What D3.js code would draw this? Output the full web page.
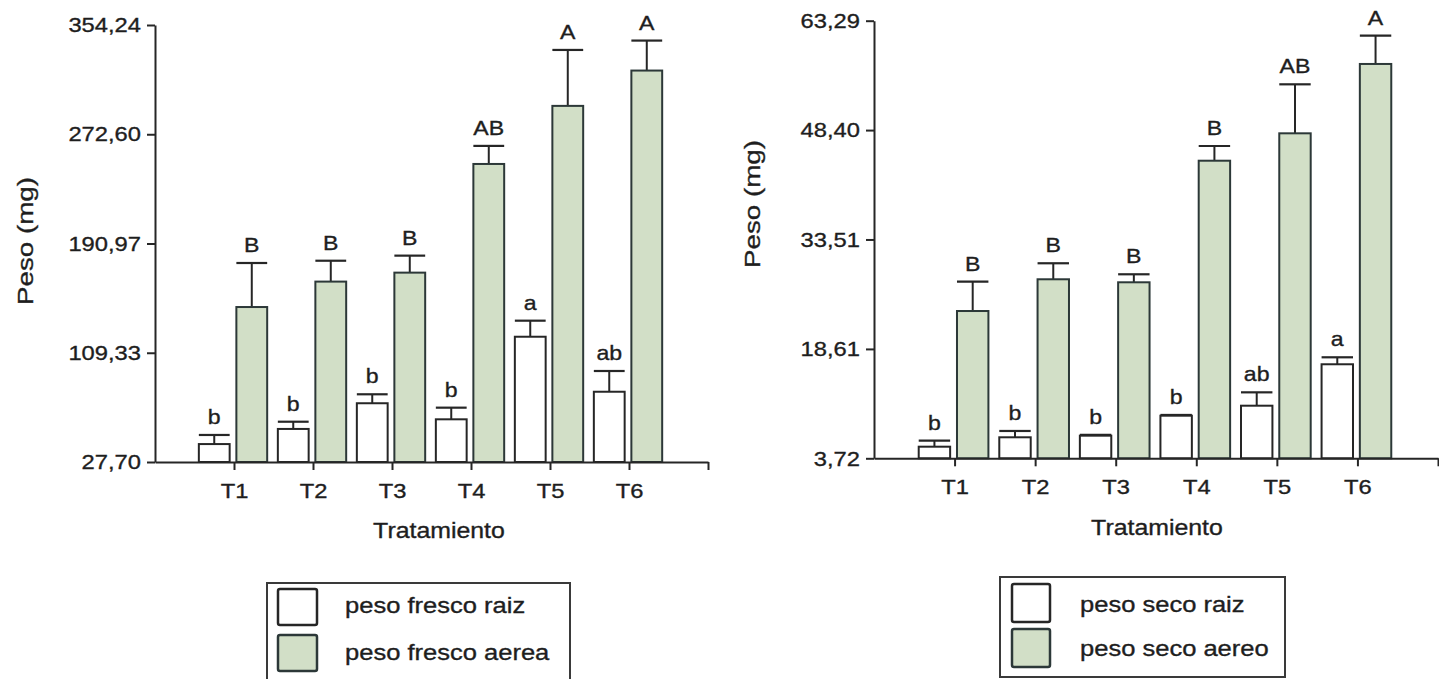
<!DOCTYPE html>
<html>
<head>
<meta charset="utf-8">
<script src="https://cdn.jsdelivr.net/npm/d3@7"></script>
<style>
  html, body { margin: 0; padding: 0; background: #ffffff; }
  svg { display: block; font-family: "Liberation Sans", Arial, sans-serif; }
  text { fill: #1e1e1e; stroke: #1e1e1e; stroke-width: 0.35px; }
</style>
</head>
<body>
<script>
// Treatments on the x axis
const treatments = ["T1", "T2", "T3", "T4", "T5", "T6"];

// Fresh weight (mg): root and shoot means, standard errors and Tukey letters
const freshRoot        = [41.1, 52.4, 71.6, 59.6, 121.3, 80.2];
const freshRootErr     = [6.8, 5.4, 6.7, 8.7, 12.0, 15.5];
const freshRootLetters = ["b", "b", "b", "b", "a", "ab"];
const freshShoot        = [143.5, 162.5, 169.2, 250.4, 293.8, 320.2];
const freshShootErr     = [32.9, 15.6, 12.7, 13.5, 41.8, 22.4];
const freshShootLetters = ["B", "B", "B", "AB", "A", "A"];
const freshTicks = [27.70, 109.33, 190.97, 272.60, 354.24];
const freshLegend = ["peso fresco raiz", "peso fresco aerea"];

// Dry weight (mg)
const dryRoot        = [5.30, 6.58, 6.80, 9.52, 10.88, 16.52];
const dryRootErr     = [0.82, 0.86, 0.12, 0.10, 1.82, 0.95];
const dryRootLetters = ["b", "b", "b", "b", "ab", "a"];
const dryShoot        = [23.77, 28.09, 27.68, 44.23, 47.96, 57.40];
const dryShootErr     = [3.99, 2.18, 1.09, 2.00, 6.67, 3.85];
const dryShootLetters = ["B", "B", "B", "B", "AB", "A"];
const dryTicks = [3.72, 18.61, 33.51, 48.40, 63.29];
const dryLegend = ["peso seco raiz", "peso seco aereo"];

const yTitle = "Peso (mg)";
const xTitle = "Tratamiento";

const INK = "#262626";
const GREEN = "#d2dfc7";
const GREEN_EDGE = "#2c3838";

const fmt = d3.formatLocale({ decimal: ",", thousands: ".", grouping: [3], currency: ["", ""] }).format(".2f");

const svg = d3.select("body").append("svg")
  .attr("width", 1439).attr("height", 679);

// widen glyphs horizontally (the lettering is set a little wider than the font)
function stretch(sel, k) {
  sel.each(function () {
    const L = this.getComputedTextLength();
    this.setAttribute("textLength", L * k);
    this.setAttribute("lengthAdjust", "spacingAndGlyphs");
  });
}

function drawPanel(p) {
  const g = svg.append("g");
  const x = d3.scaleLinear().domain([0, treatments.length + 1]).range([p.left, p.right]);
  const y = d3.scaleLinear().domain([p.ticks[0], p.ticks[p.ticks.length - 1]]).range([p.bottom, p.top]);
  const u = x(1) - x(0);
  const bw = 0.39 * u;
  const base = p.ticks[0];

  const series = [
    { values: p.root,  err: p.rootErr,  letters: p.rootLetters,  fill: "#ffffff", edge: INK,        off: -0.445 },
    { values: p.shoot, err: p.shootErr, letters: p.shootLetters, fill: GREEN,     edge: GREEN_EDGE, off: 0.03 }
  ];

  series.forEach(s => {
    const rows = s.values.map((v, i) => ({ v, e: s.err[i], l: s.letters[i], x0: x(i + 1) + s.off * u }));
    const sg = g.append("g");

    // error bars (upper whisker + cap)
    sg.selectAll("line.whisker").data(rows).join("line")
      .attr("x1", d => d.x0 + bw / 2).attr("x2", d => d.x0 + bw / 2)
      .attr("y1", d => y(d.v)).attr("y2", d => y(d.v + d.e))
      .attr("stroke", INK).attr("stroke-width", 2);
    sg.selectAll("line.cap").data(rows).join("line")
      .attr("x1", d => d.x0).attr("x2", d => d.x0 + bw)
      .attr("y1", d => y(d.v + d.e)).attr("y2", d => y(d.v + d.e))
      .attr("stroke", INK).attr("stroke-width", 2.2);

    // bars
    sg.selectAll("rect").data(rows).join("rect")
      .attr("x", d => d.x0).attr("width", bw)
      .attr("y", d => y(d.v)).attr("height", d => y(base) - y(d.v))
      .attr("fill", s.fill).attr("stroke", s.edge).attr("stroke-width", 2);

    // significance letters
    const lt = sg.selectAll("text").data(rows).join("text")
      .attr("x", d => d.x0 + bw / 2).attr("y", d => y(d.v + d.e) - 11)
      .attr("text-anchor", "middle").attr("font-size", 21)
      .text(d => d.l);
    stretch(lt, 1.1);
  });

  // y axis
  const ya = g.append("g").attr("transform", `translate(${p.left},0)`)
    .call(d3.axisLeft(y).tickValues(p.ticks).tickFormat(fmt).tickSize(8).tickSizeOuter(0).tickPadding(6));
  // x axis
  const xa = g.append("g").attr("transform", `translate(0,${p.bottom})`)
    .call(d3.axisBottom(x).tickValues(d3.range(1, treatments.length + 2))
      .tickFormat(d => treatments[d - 1] || "").tickSize(8).tickSizeOuter(0).tickPadding(13));

  [ya, xa].forEach(a => {
    a.select(".domain").attr("stroke", INK).attr("stroke-width", 2);
    a.selectAll(".tick line").attr("stroke", INK).attr("stroke-width", 2);
    a.selectAll(".tick text").attr("font-size", 21).attr("fill", "#1e1e1e")
      .attr("font-family", "'Liberation Sans', Arial, sans-serif");
    stretch(a.selectAll(".tick text"), 1.13);
  });

  // axis titles
  const xt = g.append("text").attr("x", p.xTitleX).attr("y", p.xTitleY)
    .attr("text-anchor", "middle").attr("font-size", 22).text(xTitle);
  stretch(xt, 1.13);
  g.append("text")
    .attr("transform", `translate(${p.yTitleX},${p.yTitleY}) rotate(-90)`)
    .attr("text-anchor", "middle").attr("dy", "0.35em").attr("font-size", 22)
    .attr("textLength", 128).attr("lengthAdjust", "spacingAndGlyphs")
    .text(yTitle);

  // legend
  const L = p.legend;
  const lg = g.append("g");
  lg.append("rect").attr("x", L.x).attr("y", L.y).attr("width", L.w).attr("height", L.h)
    .attr("fill", "#ffffff").attr("stroke", "#3a3a3a").attr("stroke-width", 2);
  const fills = [["#ffffff", INK], [GREEN, GREEN_EDGE]];
  p.legendLabels.forEach((name, i) => {
    lg.append("rect")
      .attr("x", L.sx).attr("y", L.sy[i]).attr("width", L.sw).attr("height", L.sh)
      .attr("rx", 2).attr("fill", fills[i][0]).attr("stroke", fills[i][1]).attr("stroke-width", 2.5);
    const t = lg.append("text").attr("x", L.tx).attr("y", L.ty[i])
      .attr("font-size", 22).text(name);
    stretch(t, 1.16);
  });
}

drawPanel({
  left: 155, right: 708, top: 25, bottom: 462,
  ticks: freshTicks,
  root: freshRoot, rootErr: freshRootErr, rootLetters: freshRootLetters,
  shoot: freshShoot, shootErr: freshShootErr, shootLetters: freshShootLetters,
  xTitleX: 439, xTitleY: 538, yTitleX: 25, yTitleY: 241,
  legendLabels: freshLegend,
  legend: { x: 267, y: 583, w: 303, h: 110, sx: 278, sw: 39, sh: 36, sy: [589, 635], tx: 345, ty: [613, 660] }
});

drawPanel({
  left: 874, right: 1438, top: 20.7, bottom: 458.3,
  ticks: dryTicks,
  root: dryRoot, rootErr: dryRootErr, rootLetters: dryRootLetters,
  shoot: dryShoot, shootErr: dryShootErr, shootLetters: dryShootLetters,
  xTitleX: 1157, xTitleY: 535, yTitleX: 752, yTitleY: 204,
  legendLabels: dryLegend,
  legend: { x: 1000, y: 577, w: 285, h: 100, sx: 1012, sw: 38, sh: 38, sy: [584, 629], tx: 1080, ty: [612, 656] }
});
</script>
</body>
</html>
